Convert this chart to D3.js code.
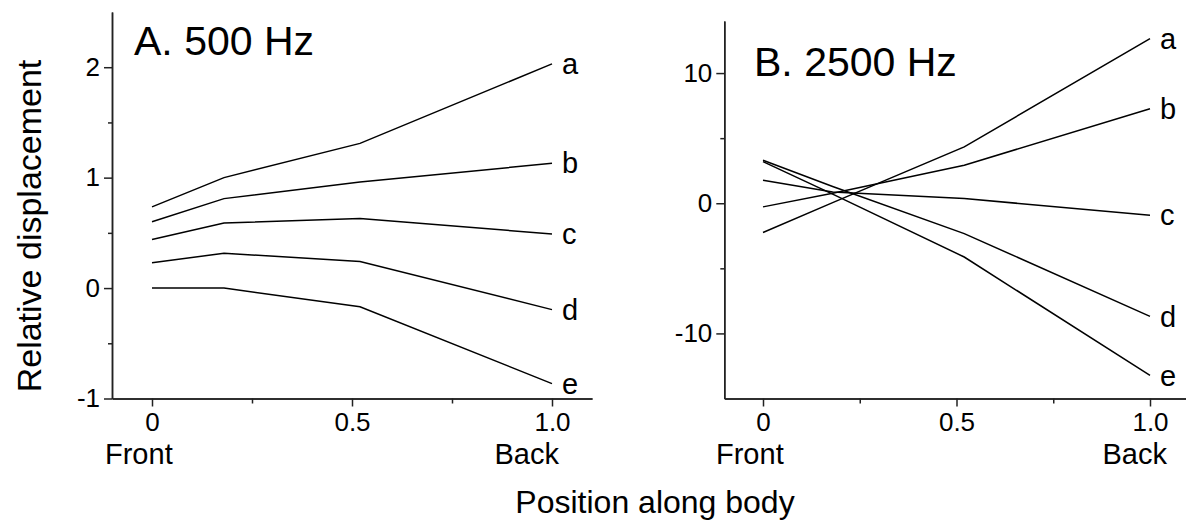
<!DOCTYPE html>
<html>
<head>
<meta charset="utf-8">
<script src="https://cdn.jsdelivr.net/npm/d3@7"></script>
<style>
  body { margin: 0; background: #fff; }
  svg text { font-family: "Liberation Sans", Arial, sans-serif; fill: #000; }
  .axis path, .axis line { stroke: #222; stroke-width: 1.5; }
  .trace { fill: none; stroke: #000; stroke-width: 1.5; }
</style>
</head>
<body>
<div id="chart"></div>
<script>
// positions along the body (0 = front, 1 = back)
var positions = [0, 0.18, 0.52, 1.0];
var seriesNames = ["a", "b", "c", "d", "e"];

// A. 500 Hz
var a500 = [0.735, 1.0, 1.31, 2.03];
var b500 = [0.60, 0.81, 0.96, 1.13];
var c500 = [0.44, 0.59, 0.63, 0.49];
var d500 = [0.23, 0.315, 0.24, -0.195];
var e500 = [0.0, 0.0, -0.17, -0.865];

// B. 2500 Hz
var a2500 = [-2.25, 0.05, 4.33, 12.64];
var b2500 = [-0.28, 0.76, 2.92, 7.26];
var c2500 = [1.77, 0.87, 0.36, -0.92];
var d2500 = [3.3, 1.29, -2.33, -8.69];
var e2500 = [3.2, 0.7, -4.13, -13.23];

// tick values
var xTicks = [0, 0.5, 1.0];
var xMinor = [0.25, 0.75];
var yTicks500 = [-1, 0, 1, 2];
var yMinor500 = [-0.5, 0.5, 1.5];
var yTicks2500 = [-10, 0, 10];
var yMinor2500 = [-5, 5];


var PanelChart = function(input) {
    // load in arguments from config object
    this.input = input;
    this.draw();
}

PanelChart.prototype.draw = function() {
    var inp = this.input;
    var chart_this = this;

    this.xScale = d3.scaleLinear().domain([-0.1, 1.1]).range([inp.left, inp.right]);
    this.yScale = d3.scaleLinear().domain(inp.yDomain).range([inp.bottom, inp.top]);

    this.g = inp.svg.append("g");

    // x axis, major + minor ticks
    var fmtX = function(d) { return d === 0 ? "0" : d3.format(".1f")(d); };
    this.g.append("g")
        .attr("class", "axis")
        .attr("transform", "translate(0," + inp.bottom + ")")
        .call(d3.axisBottom(this.xScale).tickValues(xMinor).tickSize(5).tickSizeOuter(0).tickFormat(""));
    var xAx = this.g.append("g")
        .attr("class", "axis")
        .attr("transform", "translate(0," + inp.bottom + ")")
        .call(d3.axisBottom(this.xScale).tickValues(xTicks).tickSize(8).tickSizeOuter(0).tickPadding(6).tickFormat(fmtX));
    xAx.selectAll("text").attr("font-size", 26);

    // y axis (plain hyphen for negatives, like the original)
    this.g.append("g")
        .attr("class", "axis")
        .attr("transform", "translate(" + inp.left + ",0)")
        .call(d3.axisLeft(this.yScale).tickValues(inp.yMinor).tickSize(4).tickSizeOuter(0).tickFormat(""));
    var yAx = this.g.append("g")
        .attr("class", "axis")
        .attr("transform", "translate(" + inp.left + ",0)")
        .call(d3.axisLeft(this.yScale).tickValues(inp.yTicks).tickSize(8).tickSizeOuter(0).tickPadding(4)
            .tickFormat(function(d) { return String(d); }));
    yAx.selectAll("text").attr("font-size", 26);
    this.g.selectAll(".axis").attr("font-family", null);

    // lines
    var line = d3.line()
        .x(function(d, i) { return chart_this.xScale(positions[i]); })
        .y(function(d) { return chart_this.yScale(d); });

    this.g.selectAll(".trace")
        .data(inp.series)
      .enter().append("path")
        .attr("class", "trace")
        .attr("d", function(d) { return line(d); });

    // series letters at the right end
    this.g.selectAll(".letter")
        .data(inp.series)
      .enter().append("text")
        .attr("class", "letter")
        .attr("x", this.xScale(1) + 10)
        .attr("y", function(d) { return chart_this.yScale(d[d.length - 1]); })
        .attr("dy", "0.35em")
        .attr("font-size", 29)
        .text(function(d, i) { return seriesNames[i]; });

    // panel title
    this.g.append("text")
        .attr("x", inp.titleX)
        .attr("y", inp.titleY)
        .attr("font-size", 41)
        .text(inp.title);

    // front / back
    this.g.append("text")
        .attr("x", this.xScale(0) - 47)
        .attr("y", 464)
        .attr("font-size", 29)
        .text("Front");
    this.g.append("text")
        .attr("x", this.xScale(1) + inp.backOffset)
        .attr("y", 464)
        .attr("text-anchor", "end")
        .attr("font-size", 29)
        .text("Back");
}


var svg = d3.select("#chart")
    .append("svg")
    .attr("width", 1186)
    .attr("height", 525);

new PanelChart({
    svg: svg, left: 112, right: 592, top: 12, bottom: 398.5,
    yDomain: [-1, 2.5], yTicks: yTicks500, yMinor: yMinor500,
    series: [a500, b500, c500, d500, e500],
    title: "A. 500 Hz", titleX: 134, titleY: 55, backOffset: 7
});

new PanelChart({
    svg: svg, left: 724.3, right: 1188.7, top: 21, bottom: 398.5,
    yDomain: [-15, 14], yTicks: yTicks2500, yMinor: yMinor2500,
    series: [a2500, b2500, c2500, d2500, e2500],
    title: "B. 2500 Hz", titleX: 754, titleY: 76, backOffset: 17
});

// shared axis titles
svg.append("text")
    .attr("transform", "translate(41,226) rotate(-90)")
    .attr("text-anchor", "middle")
    .attr("font-size", 34)
    .text("Relative displacement");

svg.append("text")
    .attr("x", 655)
    .attr("y", 513)
    .attr("text-anchor", "middle")
    .attr("font-size", 32)
    .text("Position along body");
</script>
</body>
</html>
